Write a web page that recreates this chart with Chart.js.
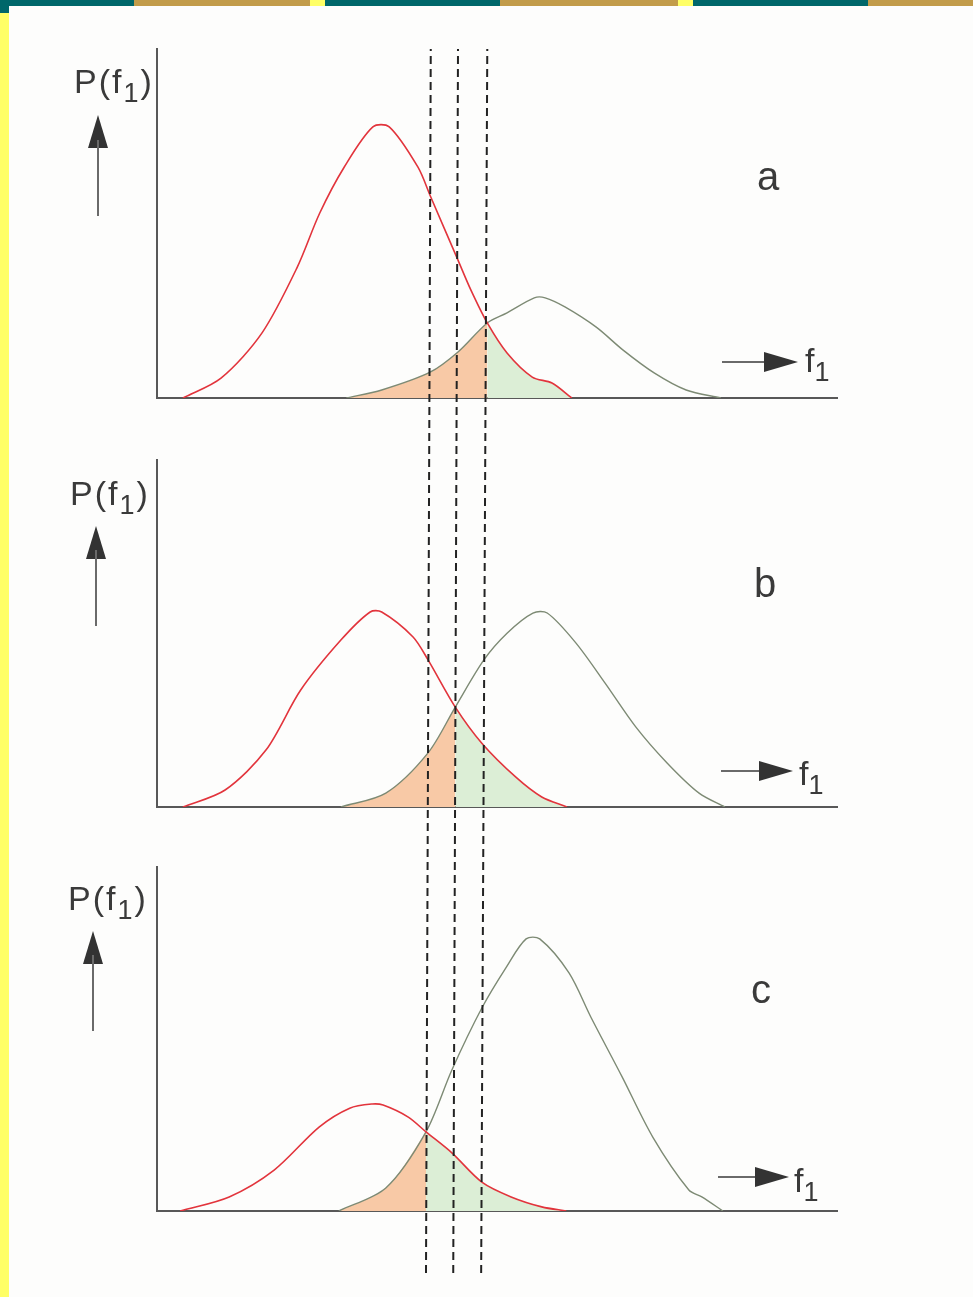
<!DOCTYPE html>
<html>
<head>
<meta charset="utf-8">
<script src="https://cdn.jsdelivr.net/npm/chart.js@4.4.1/dist/chart.umd.min.js"></script>
<style>
  body { margin: 0; background: #fdfdfc; }
  #page { position: relative; width: 973px; height: 1297px; overflow: hidden;
          font-family: "Liberation Sans", Arial, sans-serif; color: #3a3a3a; }
  #chart { position: absolute; left: 0; top: 0; }
  .bar { position: absolute; }
  .lbl { position: absolute; line-height: 1; white-space: nowrap; }
  .plbl { font-size: 34px; letter-spacing: 2px; }
  .flbl { font-size: 34px; }
  .plbl span, .flbl span { font-size: 27px; position: relative; top: 9px; }
  .panel { font-size: 40px; }
  .shaft { position: absolute; background: #6a6a6a; }
  .headUp { position: absolute; width: 0; height: 0;
            border-left: 10px solid transparent; border-right: 10px solid transparent;
            border-bottom: 33px solid #333; }
  .headRt { position: absolute; width: 0; height: 0;
            border-top: 10px solid transparent; border-bottom: 10px solid transparent;
            border-left: 34px solid #333; }
</style>
</head>
<body>
<div id="page">
  <canvas id="chart" width="973" height="1297"></canvas>

  <!-- slide frame -->
  <div class="bar" style="left:0;top:0;width:134px;height:6px;background:#00676a"></div>
  <div class="bar" style="left:134px;top:0;width:176px;height:6px;background:#c29c4a"></div>
  <div class="bar" style="left:310px;top:0;width:15px;height:6px;background:#ffff66"></div>
  <div class="bar" style="left:325px;top:0;width:175px;height:6px;background:#00676a"></div>
  <div class="bar" style="left:500px;top:0;width:178px;height:6px;background:#c29c4a"></div>
  <div class="bar" style="left:678px;top:0;width:15px;height:6px;background:#ffff66"></div>
  <div class="bar" style="left:693px;top:0;width:175px;height:6px;background:#00676a"></div>
  <div class="bar" style="left:868px;top:0;width:105px;height:6px;background:#c29c4a"></div>
  <div class="bar" style="left:0;top:0;width:9px;height:13px;background:#00676a"></div>
  <div class="bar" style="left:0;top:13px;width:9px;height:1284px;background:#ffff66"></div>

  <!-- panel a -->
  <div class="lbl plbl" style="left:74px;top:64px">P(f<span>1</span>)</div>
  <div class="headUp" style="left:88px;top:115px"></div>
  <div class="shaft" style="left:97px;top:140px;width:2px;height:76px"></div>
  <div class="lbl panel" style="left:757px;top:156px">a</div>
  <div class="shaft" style="left:722px;top:361px;width:46px;height:2px"></div>
  <div class="headRt" style="left:764px;top:352px"></div>
  <div class="lbl flbl" style="left:805px;top:343px">f<span>1</span></div>

  <!-- panel b -->
  <div class="lbl plbl" style="left:70px;top:476px">P(f<span>1</span>)</div>
  <div class="headUp" style="left:86px;top:526px"></div>
  <div class="shaft" style="left:95px;top:550px;width:2px;height:76px"></div>
  <div class="lbl panel" style="left:754px;top:563px">b</div>
  <div class="shaft" style="left:721px;top:770px;width:42px;height:2px"></div>
  <div class="headRt" style="left:759px;top:761px"></div>
  <div class="lbl flbl" style="left:799px;top:756px">f<span>1</span></div>

  <!-- panel c -->
  <div class="lbl plbl" style="left:68px;top:881px">P(f<span>1</span>)</div>
  <div class="headUp" style="left:83px;top:931px"></div>
  <div class="shaft" style="left:92px;top:955px;width:2px;height:76px"></div>
  <div class="lbl panel" style="left:751px;top:969px">c</div>
  <div class="shaft" style="left:718px;top:1176px;width:42px;height:2px"></div>
  <div class="headRt" style="left:755px;top:1167px"></div>
  <div class="lbl flbl" style="left:794px;top:1163px">f<span>1</span></div>
</div>

<script>
// ---- data (f1 on 0..100, P(f1) on 0..100 = top of each panel's axis) ----
const redA = [[3.8,0],[9.4,5.7],[15.4,18.6],[20.6,37.5],[23.9,53.0],[27.5,66.2],[31.7,77.7],[34.1,77.7],
              [38.3,66.2],[40.2,57.6],[44.2,39.5],[46.1,30.9],[48.5,21.5],[51.4,12.9],[55.1,6.0],[58.0,4.3],[60.9,0]];
const greenA = [[27.8,0],[33.0,2.3],[40.1,7.4],[44.2,13.2],[48.5,21.5],[51.4,24.4],[55.4,28.7],[57.0,28.7],
                [59.9,26.1],[64.5,20.3],[68.4,13.8],[73.0,7.2],[77.7,2.3],[82.8,0]];

const redB = [[3.8,0],[10.0,4.9],[16.0,16.4],[21.1,33.7],[27.0,48.1],[31.3,56.2],[33.0,56.2],[37.6,49.0],
              [39.8,42.4],[43.8,28.8],[47.7,18.4],[52.7,8.6],[56.5,2.9],[60.2,0]];
const greenB = [[27.0,0],[33.6,4.0],[39.8,15.6],[43.8,28.8],[48.0,42.4],[51.4,50.1],[55.2,55.9],[57.3,55.9],
                [61.5,47.3],[65.8,35.7],[70.3,23.1],[74.9,12.7],[79.6,4.0],[83.4,0]];

const redC = [[3.4,0],[10.6,4.1],[17.2,11.9],[23.8,24.4],[28.3,29.9],[31.6,31.1],[33.2,30.8],[36.9,27.3],
              [39.5,23.0],[43.3,16.9],[47.7,8.4],[52.0,4.1],[56.5,1.2],[60.1,0]];
const greenC = [[26.7,0],[33.6,6.7],[39.5,23.0],[43.3,41.0],[47.7,59.0],[51.3,70.9],[54.2,79.1],[56.2,79.1],
                [60.5,69.2],[63.7,56.4],[68.3,39.0],[72.8,21.5],[78.1,6.1],[80.0,4.1],[83.1,0]];

// where the two curves cross in each panel (shading changes colour there)
const crossX = [48.5, 43.8, 39.5];

// three dashed thresholds, f1 at the top and at the bottom of the figure
const dashTop = [40.2, 44.2, 48.5];
const dashBottom = [39.5, 43.5, 47.6];

const RED = '#e2343c';
const GREEN = '#7d8a74';
const ORANGE_FILL = '#f8c9a6';
const GREEN_FILL = '#dceed6';
const TENSION = 0.3;

function pts(list) {
    return list.map(([x, y]) => ({ x, y }));
}

function curve(list, axis, color, width) {
    return {
        data: pts(list), yAxisID: axis, borderColor: color, borderWidth: width,
        pointRadius: 0, fill: false, tension: TENSION, order: 1
    };
}

function area(list, axis, color) {
    return {
        data: pts(list), yAxisID: axis, borderWidth: 0, borderColor: 'transparent',
        backgroundColor: color, pointRadius: 0, fill: 'origin', tension: TENSION, order: 5
    };
}

const panels = [
    { axis: 'ya', red: redA, green: greenA, cross: crossX[0] },
    { axis: 'yb', red: redB, green: greenB, cross: crossX[1] },
    { axis: 'yc', red: redC, green: greenC, cross: crossX[2] }
];

const datasets = [];
panels.forEach(p => {
    datasets.push(area(p.green.filter(d => d[0] <= p.cross), p.axis, ORANGE_FILL));
    datasets.push(area(p.red.filter(d => d[0] >= p.cross), p.axis, GREEN_FILL));
    datasets.push(curve(p.red, p.axis, RED, 1.6));
    datasets.push(curve(p.green, p.axis, GREEN, 1.4));
});
dashTop.forEach((top, i) => {
    datasets.push({
        data: [{ x: dashBottom[i], y: 0 }, { x: top, y: 1 }],
        yAxisID: 'yAll', borderColor: '#222', borderWidth: 2, borderDash: [8, 5],
        pointRadius: 0, fill: false, order: 0
    });
});

// panel axis: left border + a single grid line at zero (the f1 axis)
function panelAxis(weight) {
    return {
        type: 'linear', position: 'left', stack: 'fig', stackWeight: weight,
        min: 0, max: 100,
        border: { display: true, color: '#585858', width: 2 },
        grid: { color: '#585858', lineWidth: 2, drawTicks: false },
        ticks: { display: false },
        afterBuildTicks: ax => { ax.ticks = [{ value: 0 }]; }
    };
}

function gapAxis(weight) {
    return {
        type: 'linear', position: 'left', stack: 'fig', stackWeight: weight,
        min: 0, max: 1,
        border: { display: false }, grid: { display: false, drawTicks: false },
        ticks: { display: false }
    };
}

new Chart(document.getElementById('chart'), {
    type: 'line',
    data: { datasets },
    options: {
        responsive: false,
        animation: false,
        layout: { padding: { left: 157, right: 135, top: 49, bottom: 24 } },
        plugins: { legend: { display: false }, tooltip: { enabled: false } },
        scales: {
            x: { type: 'linear', min: 0, max: 100, display: false },
            // stacked bottom to top
            gbot: gapAxis(62),
            yc: panelAxis(344),
            gbc: gapAxis(60),
            yb: panelAxis(347),
            gab: gapAxis(62),
            ya: panelAxis(349),
            yAll: { type: 'linear', position: 'left', display: false, min: 0, max: 1 }
        }
    }
});
</script>
</body>
</html>
